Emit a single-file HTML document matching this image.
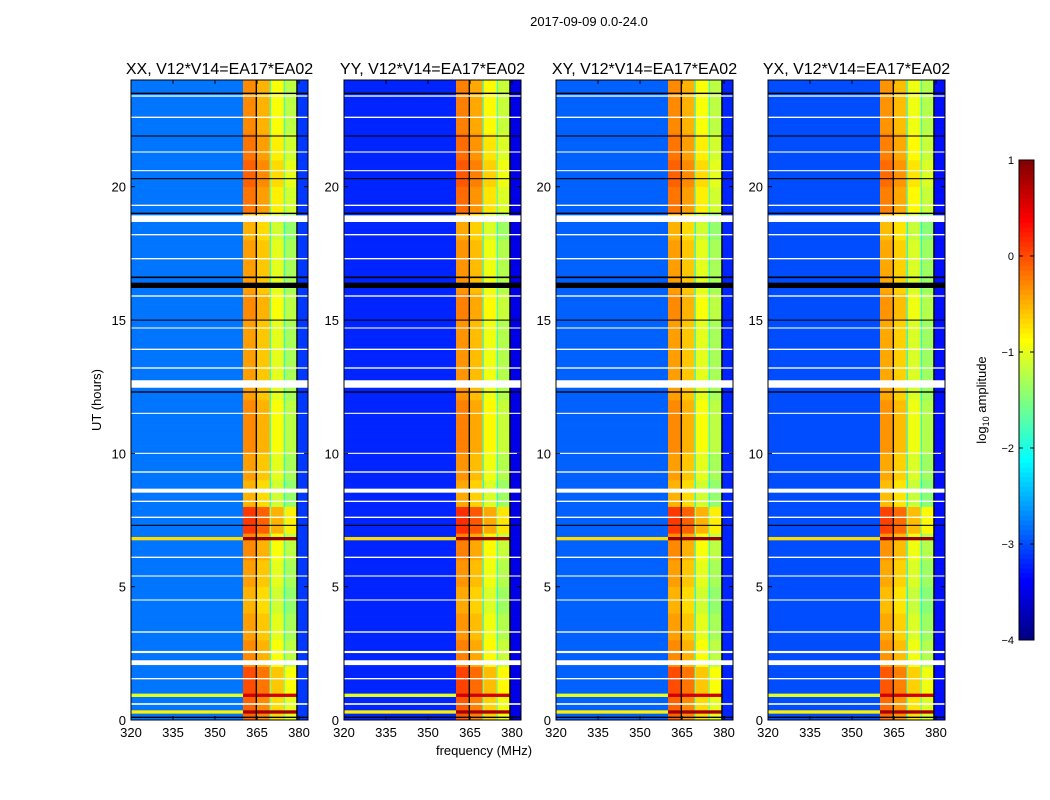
<!DOCTYPE html>
<html><head><meta charset="utf-8"><style>
body{margin:0;background:#fff;}
svg{display:block;font-family:"Liberation Sans",sans-serif;}
</style></head><body>
<svg id="fig" width="1050" height="800">
<text x="589" y="26" text-anchor="middle" font-size="13">2017-09-09 0.0-24.0</text>
<text x="101" y="400" text-anchor="middle" font-size="13" transform="rotate(-90 101 400)">UT (hours)</text>
<text x="484" y="755" text-anchor="middle" font-size="13">frequency (MHz)</text>
<text x="986" y="400" text-anchor="middle" font-size="13" transform="rotate(-90 986 400)">log<tspan font-size="9" dy="3">10</tspan><tspan dy="-3"> amplitude</tspan></text>
</svg>
<script>
// ---- data ----
const panelTitles = ["XX, V12*V14=EA17*EA02","YY, V12*V14=EA17*EA02","XY, V12*V14=EA17*EA02","YX, V12*V14=EA17*EA02"];
const panelLeft = [131,344,556,768];
const bandEdges = [320,360,364.5,365,369.5,370,374.5,375,379,379.5,383.2];
const bandLevels = [-2.8,-0.4,null,-0.6,-1.9,-1.0,-1.9,-1.3,null,-3.1];
const panelBgOffset = [0,-0.4,-0.1,-0.2];
const panelBandOffset = [0,0.05,0,-0.05];
const hourGain = [0.3,0.4,0.1,0,-0.1,0,0.1,0.5,-0.1,0,0.1,0.1,0,0,0,0.1,0,0,-0.1,0.2,0.3,0.2,0.1,0.1];
const eventHours = [0.95,6.8,0.3];
const eventLevels = [0.6,0.9,0.8];
const whiteHours = [0.6,1.55,2.15,2.55,3.3,4.5,5.4,6.1,7.6,8.2,8.6,9.3,10,11.5,12.6,13.2,13.9,14.7,15.9,17.3,18.2,18.8,19.3,20.6,21.3,22.6,23.4];
const whiteWidths = [0.06,0.05,0.18,0.08,0.05,0.04,0.04,0.05,0.05,0.05,0.15,0.05,0.04,0.04,0.28,0.05,0.05,0.04,0.05,0.05,0.05,0.25,0.05,0.04,0.04,0.05,0.05];
const blackHours = [0.1,7.3,12.3,15.0,16.3,16.6,19.0,20.3,21.9,23.5];
const blackWidths = [0.05,0.04,0.05,0.03,0.2,0.06,0.05,0.04,0.04,0.05];
const xTicks = [320,335,350,365,380];
const yTicks = [0,5,10,15,20];
const cbTicks = [1,0,-1,-2,-3,-4];

// ---- scales ----
const PW=177, TOP=80, BOT=720;
const xs=(p,f)=>panelLeft[p]+(f-320)/(383.2-320)*PW;
const ys=h=>BOT-h/24*(BOT-TOP);
function jet(v){const t=Math.max(0,Math.min(1,(v+4)/5));
 const c=x=>Math.round(255*Math.max(0,Math.min(1,1.5-Math.abs(4*t-x))));
 return `rgb(${c(3)},${c(2)},${c(1)})`;}
const NS="http://www.w3.org/2000/svg";
const svg=document.getElementById('fig');
function mk(tag,attrs,parent){const e=document.createElementNS(NS,tag);for(const k in attrs)e.setAttribute(k,attrs[k]);(parent||svg).appendChild(e);return e;}

const step=0.125;
for(let p=0;p<4;p++){
 const g=mk('g',{});
 
 
 for(let h=0;h<24;h+=step){
  const hi=Math.floor(h);
  for(let b=0;b<bandLevels.length;b++){
   let v=bandLevels[b];
   let col;
   if(v===null) col='#000';
   else{
    const isBg=(b===0||b===bandLevels.length-1);
    v+= isBg?panelBgOffset[p]:panelBandOffset[p]+hourGain[hi];
    for(let e=0;e<eventHours.length;e++){
     if(Math.abs(eventHours[e]-(h+step/2))<step/2){
      if(b===0) v=Math.max(v,eventLevels[e]-1.6);
      else if(!isBg) v=Math.max(v,eventLevels[e]);
     }
    }
    col=jet(v);
   }
   const x0=xs(p,bandEdges[b]),x1=xs(p,bandEdges[b+1]);
   const r=mk('rect',{x:x0,y:ys(h+step),width:x1-x0+0.3,height:ys(h)-ys(h+step)+0.3,fill:col},g);
   
   
  }
 }
 for(let i=0;i<whiteHours.length;i++){
  const r=mk('rect',{x:panelLeft[p],y:ys(whiteHours[i]+whiteWidths[i]/2),width:PW,height:Math.max(1,ys(0)-ys(whiteWidths[i])),fill:'#fff'},g);
  
  
 }
 for(let i=0;i<blackHours.length;i++){
  const r=mk('rect',{x:panelLeft[p],y:ys(blackHours[i]+blackWidths[i]/2),width:PW,height:Math.max(1,ys(0)-ys(blackWidths[i])),fill:'#000'},g);
  
  
 }
 const fr=mk('rect',{x:panelLeft[p],y:TOP,width:PW,height:BOT-TOP,fill:'none',stroke:'#000','stroke-width':1});
 
 
 const t=mk('text',{x:panelLeft[p]+PW/2,y:74,'text-anchor':'middle','font-size':16});
 t.textContent=panelTitles[p];
 
 
 for(const f of xTicks){
  const x=xs(p,f);
  mk('line',{x1:x,x2:x,y1:BOT,y2:BOT-4,stroke:'#000'});
  mk('line',{x1:x,x2:x,y1:TOP,y2:TOP+4,stroke:'#000'});
  const l=mk('text',{x:x,y:BOT+17,'text-anchor':'middle','font-size':13});
  l.textContent=f;
  
  
 }
 for(const hv of yTicks){
  const y=ys(hv);
  mk('line',{x1:panelLeft[p],x2:panelLeft[p]+4,y1:y,y2:y,stroke:'#000'});
  mk('line',{x1:panelLeft[p]+PW,x2:panelLeft[p]+PW-4,y1:y,y2:y,stroke:'#000'});
  const l=mk('text',{x:panelLeft[p]-5,y:y+5,'text-anchor':'end','font-size':13});
  l.textContent=hv;
  
  
 }
}
// colorbar
const CBX=1019,CBW=15,CBT=160,CBB=640;
const cbs=v=>CBB-(v+4)/5*(CBB-CBT);
const cg=mk('g',{});


for(let i=0;i<100;i++){
 const v=-4+i*0.05;
 mk('rect',{x:CBX,y:cbs(v+0.05),width:CBW,height:cbs(v)-cbs(v+0.05)+0.5,fill:jet(v+0.025)},cg);
}
mk('rect',{x:CBX,y:CBT,width:CBW,height:CBB-CBT,fill:'none',stroke:'#000'},cg);
for(const v of cbTicks){
 const y=cbs(v);
 mk('line',{x1:CBX,x2:CBX+4,y1:y,y2:y,stroke:'#000'},cg);
 mk('line',{x1:CBX+CBW,x2:CBX+CBW-4,y1:y,y2:y,stroke:'#000'},cg);
 const l=mk('text',{x:CBX-5,y:y+4,'text-anchor':'end','font-size':11},cg);
 l.textContent=(v<0?'\u2212'+(-v):v);
 
 
}
</script>
</body></html>
